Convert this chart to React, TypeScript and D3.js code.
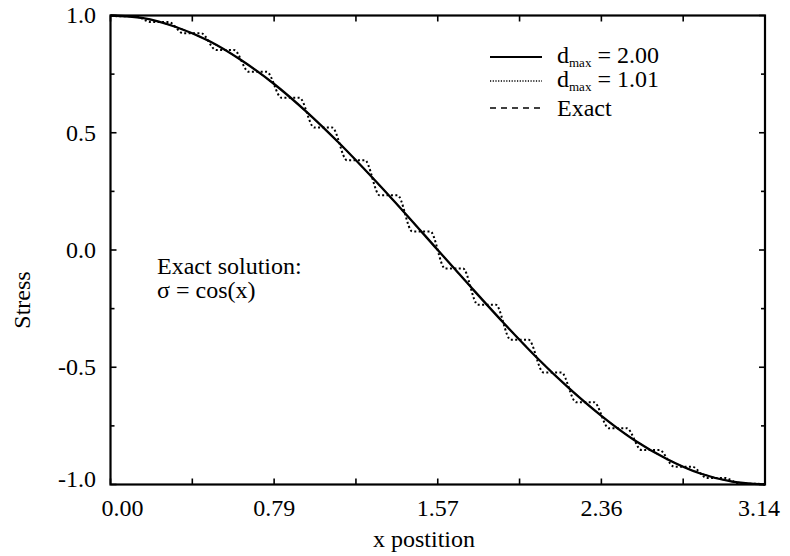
import React from "react";
import * as d3 from "d3";

// ---------- data ----------
const xTickValues = [0, 0.3927, 0.7854, 1.1781, 1.5708, 1.9635, 2.3562, 2.7489, 3.1416];
const xTickLabels = ["0.00", "", "0.79", "", "1.57", "", "2.36", "", "3.14"];
const yTickValues = [-1, -0.75, -0.5, -0.25, 0, 0.25, 0.5, 0.75, 1];
const yTickLabels = ["-1.0", "", "-0.5", "", "0.0", "", "0.5", "", "1.0"];

// Exact solution sigma = cos(x), read at 41 stations
const exactX = [0, 0.0785, 0.1571, 0.2356, 0.3142, 0.3927, 0.4712, 0.5498, 0.6283, 0.7069, 0.7854, 0.8639, 0.9425, 1.021, 1.0996, 1.1781, 1.2566, 1.3352, 1.4137, 1.4923, 1.5708, 1.6493, 1.7279, 1.8064, 1.885, 1.9635, 2.042, 2.1206, 2.1991, 2.2777, 2.3562, 2.4347, 2.5133, 2.5918, 2.6704, 2.7489, 2.8274, 2.906, 2.9845, 3.0631, 3.1416];
const exactY = [1.0, 0.9969, 0.9877, 0.9724, 0.9511, 0.9239, 0.891, 0.8526, 0.809, 0.7604, 0.7071, 0.6494, 0.5878, 0.5225, 0.454, 0.3827, 0.309, 0.2334, 0.1564, 0.0785, 0.0, -0.0785, -0.1564, -0.2334, -0.309, -0.3827, -0.454, -0.5225, -0.5878, -0.6494, -0.7071, -0.7604, -0.809, -0.8526, -0.891, -0.9239, -0.9511, -0.9724, -0.9877, -0.9969, -1.0];

// d_max = 2.00 (smooth)
const smoothX = [0, 0.1571, 0.3142, 0.4712, 0.6283, 0.7854, 0.9425, 1.0996, 1.2566, 1.4137, 1.5708, 1.7279, 1.885, 2.042, 2.1991, 2.3562, 2.5133, 2.6704, 2.8274, 2.9845, 3.1416];
const smoothY = [1.0, 0.989, 0.951, 0.892, 0.809, 0.708, 0.588, 0.454, 0.309, 0.157, 0.0, -0.156, -0.309, -0.455, -0.588, -0.707, -0.810, -0.891, -0.952, -0.988, -1.0];

// d_max = 1.01 (stair-stepped)
const stepX = [0, 0.036, 0.122, 0.193, 0.279, 0.35, 0.436, 0.507, 0.593, 0.664, 0.75, 0.821, 0.907, 0.978, 1.064, 1.135, 1.221, 1.292, 1.378, 1.449, 1.535, 1.606, 1.692, 1.763, 1.849, 1.921, 2.007, 2.078, 2.164, 2.235, 2.321, 2.392, 2.478, 2.549, 2.635, 2.706, 2.792, 2.863, 2.949, 3.02, 3.106, 3.1416];
const stepY = [0.999, 0.997, 0.997, 0.972, 0.972, 0.924, 0.924, 0.853, 0.853, 0.76, 0.76, 0.649, 0.649, 0.522, 0.522, 0.383, 0.383, 0.233, 0.233, 0.079, 0.079, -0.079, -0.079, -0.233, -0.233, -0.383, -0.383, -0.522, -0.522, -0.649, -0.649, -0.76, -0.76, -0.853, -0.853, -0.924, -0.924, -0.972, -0.972, -0.997, -0.997, -0.999];

const legendLabels = ["2.00", "1.01", "Exact"];

// ---------- layout ----------
const W = 790;
const H = 556;
const L = 110.5;
const R = 765;
const T = 15.5;
const B = 484.5;
const FONT = "'Liberation Serif', 'Times New Roman', serif";
const FS = 24;

export default function App() {
  const x = d3.scaleLinear().domain([0, 3.1416]).range([L, R]);
  const y = d3.scaleLinear().domain([-1, 1]).range([B, T]);

  const mk = (xs: number[], ys: number[], curve: any) =>
    d3
      .line<number>()
      .x((_, i) => x(xs[i]))
      .y((d) => y(d))
      .curve(curve)(ys) || "";

  const exactPath = mk(exactX, exactY, d3.curveMonotoneX);
  const smoothPath = mk(smoothX, smoothY, d3.curveMonotoneX);
  const stepPath = mk(stepX, stepY, d3.curveMonotoneX);

  const legendY = [57, 81, 108];
  const lx0 = 490;
  const lx1 = 542;
  const tx = 557;

  return (
    <svg
      width={W}
      height={H}
      style={{ position: "absolute", left: 0, top: 0, background: "#fff" }}
      fontFamily={FONT}
    >
      <rect x={0} y={0} width={W} height={H} fill="#fff" />

      {/* curves */}
      <path d={exactPath} fill="none" stroke="#000" strokeWidth={1.3} strokeDasharray="5,4" />
      <path d={stepPath} fill="none" stroke="#000" strokeWidth={2} strokeDasharray="2,2.4" />
      <path d={smoothPath} fill="none" stroke="#000" strokeWidth={2.3} />

      {/* frame */}
      <rect x={L} y={T} width={R - L} height={B - T} fill="none" stroke="#000" strokeWidth={2.2} />

      {/* x ticks */}
      {xTickValues.map((v, i) => (
        <g key={"xt" + i}>
          <line x1={x(v)} x2={x(v)} y1={B} y2={B - 6} stroke="#000" strokeWidth={1.6} />
          <line x1={x(v)} x2={x(v)} y1={T} y2={T + 6} stroke="#000" strokeWidth={1.6} />
          {xTickLabels[i] && (
            <text
              x={i === 0 ? x(v) + 12 : i === xTickValues.length - 1 ? x(v) - 6 : x(v)}
              y={516}
              fontSize={FS}
              textAnchor="middle"
            >
              {xTickLabels[i]}
            </text>
          )}
        </g>
      ))}

      {/* y ticks */}
      {yTickValues.map((v, i) => {
        const len = i % 2 === 0 ? 6 : 4;
        let ly = y(v) + 8;
        if (i === 0) ly = 487;
        if (i === yTickValues.length - 1) ly = 23;
        return (
          <g key={"yt" + i}>
            <line x1={L} x2={L + len} y1={y(v)} y2={y(v)} stroke="#000" strokeWidth={1.6} />
            <line x1={R} x2={R - len} y1={y(v)} y2={y(v)} stroke="#000" strokeWidth={1.6} />
            {yTickLabels[i] && (
              <text x={96} y={ly} fontSize={FS} textAnchor="end">
                {yTickLabels[i]}
              </text>
            )}
          </g>
        );
      })}

      {/* axis titles */}
      <text x={424} y={547} fontSize={FS} textAnchor="middle">
        x postition
      </text>
      <text transform={`translate(30,${300}) rotate(-90)`} fontSize={FS} textAnchor="middle">
        Stress
      </text>

      {/* annotation */}
      <text x={157} y={274} fontSize={FS}>
        Exact solution:
      </text>
      <text x={157} y={298} fontSize={FS}>
        σ = cos(x)
      </text>

      {/* legend */}
      <line x1={lx0} x2={lx1} y1={legendY[0]} y2={legendY[0]} stroke="#000" strokeWidth={2} />
      <line x1={lx0} x2={lx1} y1={legendY[1]} y2={legendY[1]} stroke="#000" strokeWidth={1.6} strokeDasharray="1.2,1.5" />
      <line x1={lx0} x2={lx1} y1={legendY[2]} y2={legendY[2]} stroke="#000" strokeWidth={1.6} strokeDasharray="6,5" />
      {[0, 1].map((k) => (
        <text key={"lg" + k} x={tx} y={legendY[k] + 6} fontSize={FS}>
          d
          <tspan fontSize={13} dy={4}>
            max
          </tspan>
          <tspan dy={-4}>{" = " + legendLabels[k]}</tspan>
        </text>
      ))}
      <text x={tx} y={legendY[2] + 8} fontSize={FS}>
        {legendLabels[2]}
      </text>
    </svg>
  );
}
